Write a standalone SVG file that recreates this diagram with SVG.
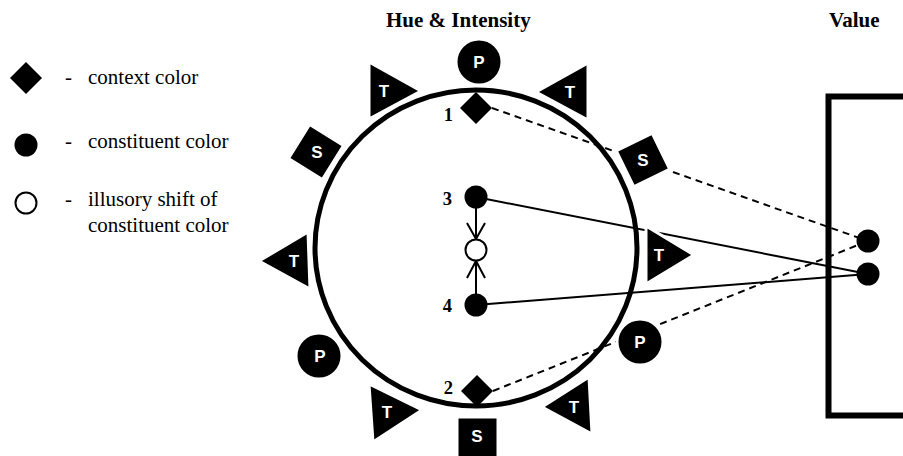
<svg xmlns="http://www.w3.org/2000/svg" width="903" height="456" viewBox="0 0 903 456">
<style>
.bg{fill:#fff}
.title{font-family:"Liberation Serif","Times New Roman",serif;font-weight:bold;font-size:21px;fill:#000}
.num{font-family:"Liberation Serif","Times New Roman",serif;font-weight:bold;font-size:18.5px;fill:#000;text-anchor:end}
.leg{font-family:"Liberation Serif","Times New Roman",serif;font-size:21px;fill:#000}
.lbl{font-family:"Liberation Sans",Arial,sans-serif;font-weight:bold;font-size:17px;fill:#fff;text-anchor:middle}
.shape{fill:#000;stroke:#fff;stroke-width:3}
.solid{fill:#000}
.hollow{fill:#fff;stroke:#000;stroke-width:2}
.wheel{fill:none;stroke:#000;stroke-width:5}
.box{fill:none;stroke:#000;stroke-width:6}
.conn{fill:none;stroke:#000;stroke-width:2}
.dash{fill:none;stroke:#000;stroke-width:2;stroke-dasharray:7 5}
</style>
<rect class="bg" x="0" y="0" width="903" height="456"/>

<g id="titles">
<text class="title" x="386" y="27">Hue &amp; Intensity</text>
<text class="title" x="829" y="27">Value</text>
</g>

<g id="legend">
<g id="legend-context">
<polygon class="solid" points="26,62 42,78 26,94 10,78"/>
<text class="leg" x="65" y="84">-</text>
<text class="leg" x="88" y="84">context color</text>
</g>
<g id="legend-constituent">
<circle class="solid" cx="26" cy="145" r="11.5"/>
<text class="leg" x="65" y="148">-</text>
<text class="leg" x="88" y="148">constituent color</text>
</g>
<g id="legend-illusory">
<circle class="hollow" cx="26" cy="203" r="10.5"/>
<text class="leg" x="65" y="206">-</text>
<text class="leg" x="88" y="206">illusory shift of</text>
<text class="leg" x="88" y="232">constituent color</text>
</g>
</g>

<g id="value-box">
<path class="box" d="M910,96.5 H828.5 V415.5 H910"/>
</g>

<g id="connectors">
<line class="dash" x1="492" y1="108" x2="858" y2="237.5"/>
<line class="dash" x1="493" y1="391" x2="858" y2="245"/>
<line class="conn" x1="476" y1="197" x2="868" y2="274"/>
<line class="conn" x1="476" y1="305" x2="868" y2="274"/>
<line class="conn" x1="476" y1="208" x2="476" y2="239"/>
<polyline class="conn" points="467,223 476,239 485,223"/>
<line class="conn" x1="476" y1="261" x2="476" y2="294"/>
<polyline class="conn" points="467,278 476,261 485,278"/>
</g>

<g id="hue-wheel">
<ellipse class="wheel" cx="476" cy="248" rx="161" ry="158"/>
</g>

<g id="wheel-P-top"><circle class="shape" cx="479" cy="62" r="23"/><text class="lbl" x="479" y="68">P</text></g>
<g id="wheel-T-60"><polygon class="shape" points="588,63 588,120 536,92"/><text class="lbl" x="570" y="98">T</text></g>
<g id="wheel-S-30"><rect class="shape" x="-20" y="-20" width="40" height="40" transform="translate(643,160) rotate(-26)"/><text class="lbl" x="643" y="166">S</text></g>
<g id="wheel-T-0"><polygon class="shape" points="646,226 646,284 694,255"/><text class="lbl" x="659" y="261">T</text></g>
<g id="wheel-P-330"><circle class="shape" cx="640" cy="342" r="23"/><text class="lbl" x="640" y="348">P</text></g>
<g id="wheel-T-300"><polygon class="shape" points="589,377 592,434 542,407"/><text class="lbl" x="574" y="413">T</text></g>
<g id="wheel-S-270"><rect class="shape" x="457" y="417" width="41" height="42"/><text class="lbl" x="477" y="442">S</text></g>
<g id="wheel-T-240"><polygon class="shape" points="369,384 373,442 422,410"/><text class="lbl" x="387" y="418">T</text></g>
<g id="wheel-P-210"><circle class="shape" cx="319" cy="356" r="23"/><text class="lbl" x="320" y="362">P</text></g>
<g id="wheel-T-180"><polygon class="shape" points="308,232 310,289 259,261"/><text class="lbl" x="294" y="267">T</text></g>
<g id="wheel-S-150"><rect class="shape" x="-20" y="-20" width="40" height="40" transform="translate(316,152) rotate(32)"/><text class="lbl" x="317" y="158">S</text></g>
<g id="wheel-T-120"><polygon class="shape" points="369,62 369,119 421,91"/><text class="lbl" x="384" y="97">T</text></g>

<g id="context-1"><polygon class="solid" points="476,92 492,108 476,124 460,108"/><text class="num" x="453" y="121">1</text></g>
<g id="context-2"><polygon class="solid" points="477,375 493,391 477,407 461,391"/><text class="num" x="453" y="394">2</text></g>
<g id="constituent-3"><circle class="solid" cx="476" cy="197" r="11.5"/><text class="num" x="452" y="205">3</text></g>
<g id="illusory"><circle class="hollow" cx="476" cy="250" r="10.5"/></g>
<g id="constituent-4"><circle class="solid" cx="476" cy="305" r="11.5"/><text class="num" x="452" y="312">4</text></g>
<g id="value-A"><circle class="solid" cx="868" cy="241" r="11.5"/></g>
<g id="value-B"><circle class="solid" cx="868" cy="274" r="11.5"/></g>
</svg>
